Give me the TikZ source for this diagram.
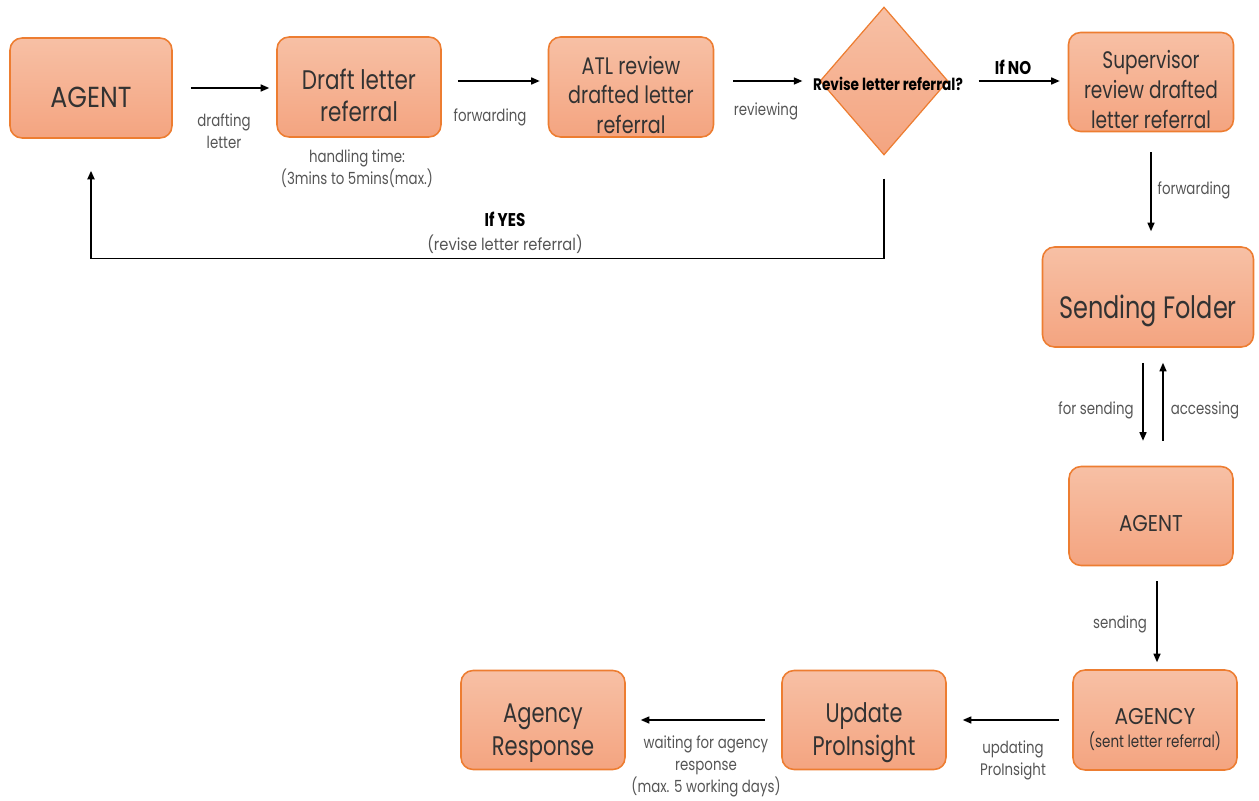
\documentclass[tikz,border=0pt]{standalone}
\usepackage{fontspec}
\usepackage{graphicx}
\setmainfont[FakeStretch=0.8]{Poppins}
\newfontfamily\condbold[FakeStretch=0.82]{Poppins Bold}
\usetikzlibrary{arrows.meta,shapes.geometric,calc}
\definecolor{boxtop}{RGB}{247,192,165}
\definecolor{boxbot}{RGB}{244,164,128}
\definecolor{boxline}{RGB}{237,125,49}
\definecolor{txt}{RGB}{50,50,50}
\definecolor{lbl}{RGB}{85,85,85}
% #1 horizontal scale, #2 how far the text sits below the box centre, #3 lines
\newcommand{\btxt}[3]{\raisebox{-#2}[\height][\depth]{\scalebox{#1}[1]{\begin{tabular}{@{}c@{}}#3\end{tabular}}}}
\tikzset{
  proc/.style={draw=boxline, line width=0.9pt, rounded corners=0.24cm,
    top color=boxtop, bottom color=boxbot, minimum width=3.28cm, minimum height=2cm,
    text=txt, inner sep=0pt},
  decis/.style={draw=boxline, line width=0.7pt, diamond, top color=boxtop, bottom color=boxbot,
    minimum width=2.56cm, minimum height=2.96cm, inner sep=0pt},
  arr/.style={-{Triangle[length=0.17cm,width=0.14cm]}, line width=0.8pt, black},
  lab/.style={text=lbl, align=center, font=\fontsize{9.5}{12.5}\selectfont, inner sep=1pt},
  blab/.style={text=black, align=center, font=\condbold\fontsize{9.5}{12}\selectfont, inner sep=1pt},
}
\begin{document}
\begin{tikzpicture}[x=0.02cm,y=-0.02cm]
\useasboundingbox (0,0) rectangle (1259,801);
% nodes
\node[proc, minimum width=3.24cm, font=\fontsize{16.5}{19}\selectfont] (agent1) at (91,88) {\btxt{1.09}{0.26cm}{AGENT}};
\node[proc, font=\fontsize{15.3}{18}\selectfont] (draft) at (359,87) {\btxt{1}{0.24cm}{Draft letter\\referral}};
\node[proc, minimum width=3.3cm, font=\fontsize{13.6}{17}\selectfont] (atl) at (631,87) {\btxt{1}{0.22cm}{ATL review\\drafted letter\\referral}};
\node[decis] (dia) at (884,81) {};
\node[blab] (diatxt) at (888,84) {Revise letter referral?};
\node[proc, minimum width=3.3cm, minimum height=1.98cm, font=\fontsize{13.6}{17}\selectfont] (sup) at (1151,82) {\btxt{0.97}{0.21cm}{Supervisor\\review drafted\\letter referral}};
\node[proc, minimum width=4.22cm, font=\fontsize{17.6}{20}\selectfont] (send) at (1148,297) {\btxt{0.97}{0.28cm}{Sending Folder}};
\node[proc, minimum height=1.98cm, font=\fontsize{13}{15}\selectfont] (agent2) at (1151,516) {\btxt{1.09}{0.2cm}{AGENT}};
\node[proc, font=\fontsize{13}{13}\selectfont] (agency) at (1155,720) {\btxt{1}{0.22cm}{\scalebox{1.1}[1]{AGENCY}\\{\fontsize{9.6}{11}\selectfont(sent letter referral)}}};
\node[proc, minimum height=1.98cm, font=\fontsize{15.3}{18.5}\selectfont] (update) at (864,720) {\btxt{0.97}{0.25cm}{Update\\ProInsight}};
\node[proc, minimum height=1.98cm, font=\fontsize{15.3}{18.5}\selectfont] (resp) at (543,720) {\btxt{0.98}{0.25cm}{Agency\\Response}};
% connectors
\draw[arr, shorten <=0.36cm, shorten >=0.14cm] (agent1.east) -- (agent1.east -| draft.west);
\draw[arr, shorten <=0.32cm, shorten >=0.16cm] ([yshift=0.12cm]draft.east) coordinate (d1) -- (d1 -| atl.west);
\draw[arr, shorten <=0.38cm, shorten >=0.34cm] (dia.west -| atl.east) -- (dia.west);
\draw[arr, shorten <=0.6cm, shorten >=0.16cm] (dia.east) -- (dia.east -| sup.west);
\draw[arr, shorten <=0.4cm, shorten >=0.3cm] (sup.south) -- (sup.south |- send.north);
\path ([xshift=-0.16cm]agent2.north) coordinate (fs1);
\path ([xshift=0.24cm]agent2.north) coordinate (ac1);
\draw[arr, shorten <=0.3cm, shorten >=0.5cm] (fs1 |- send.south) -- (fs1);
\draw[arr, shorten <=0.5cm, shorten >=0.3cm] (ac1) -- (ac1 |- send.south);
\path ([xshift=0.04cm]agency.north) coordinate (sd1);
\draw[arr, shorten <=0.3cm, shorten >=0.14cm] (sd1 |- agent2.south) -- (sd1);
\draw[arr, shorten <=0.26cm, shorten >=0.32cm] (agency.west) -- (agency.west -| update.east);
\draw[arr, shorten <=0.32cm, shorten >=0.3cm] (update.west) -- (update.west -| resp.east);
\draw[arr, line width=1pt, shorten <=0.46cm, shorten >=0.64cm] (dia.south) -- ++(0,103) -| (agent1.south);
% labels
\node[lab] (l1) at (224,131) {drafting\\letter};
\node[lab] (l2) at (357,169) {handling time:\\(3mins to 5mins(max.)};
\node[lab] (l3) at (490,117) {forwarding};
\node[lab] (l4) at (766,111) {reviewing};
\node[blab, font=\condbold\fontsize{10.5}{12}\selectfont] (l5) at (1013,67) {If NO};
\node[lab] (l6) at (1194,190) {forwarding};
\node[blab, font=\condbold\fontsize{10.5}{12}\selectfont] (l7) at (505,219) {If YES};
\node[lab] (l8) at (505,244) {\scalebox{1.1}[1]{(revise letter referral)}};
\node[lab] (l9) at (1096,410) {for sending};
\node[lab] (l10) at (1205,410) {accessing};
\node[lab] (l11) at (1120,624) {sending};
\node[lab] (l12) at (1013,760) {updating\\ProInsight};
\node[lab] (l13) at (706,766) {waiting for agency\\response\\(max. 5 working days)};
\end{tikzpicture}
\end{document}
